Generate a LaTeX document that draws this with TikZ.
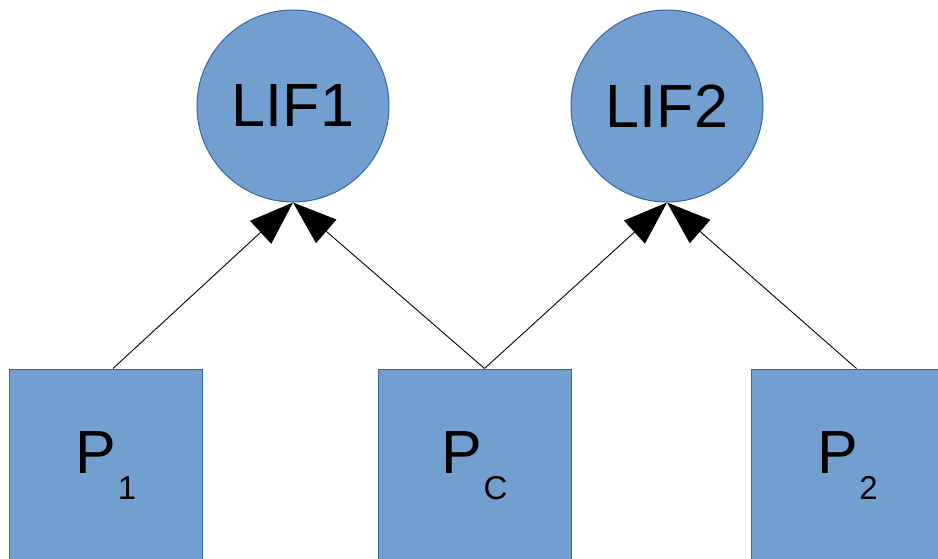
\documentclass[tikz,border=0pt]{standalone}
\usepackage{fontspec}
\setmainfont{Liberation Sans}
\usetikzlibrary{arrows.meta}
\definecolor{nodefill}{HTML}{729FCF}
\definecolor{nodeline}{HTML}{3465A4}
\newcommand{\bigtxt}{\fontsize{61}{61}\selectfont}
\newcommand{\subtxt}[1]{\kern1.5pt\raisebox{-26pt}{\fontsize{33}{33}\selectfont #1}}
\tikzset{
  neuron/.style={circle, fill=nodefill, draw=nodeline, line width=1pt,
    minimum size=192pt, inner sep=0pt, font=\bigtxt},
  source/.style={rectangle, fill=nodefill, draw=nodeline, line width=1pt,
    minimum size=193pt, inner sep=0pt, font=\bigtxt},
  link/.style={draw=black, line width=0.9pt,
    -{Triangle[length=44pt, width=31pt]}, shorten >=0pt}
}
\begin{document}
\begin{tikzpicture}[x=1pt, y=-1pt]
  \useasboundingbox (0,0) rectangle (938,559);
  \clip (0,0) rectangle (938,559);
  % integrate-and-fire neurons
  \node[neuron] (lif1) at (293,106) {LIF1};
  \node[neuron] (lif2) at (667,106) {LIF2};
  % input populations
  \node[source] (p1) at (106,465.5) {P\subtxt{1}};
  \node[source] (pc) at (474.5,465.5) {P\subtxt{C}};
  \node[source] (p2) at (847.5,465.5) {P\subtxt{2}};
  % projections
  \draw[link] ([xshift=7pt]p1.north) -- (lif1.south);
  \draw[link] ([xshift=10pt]pc.north) -- (lif1.south);
  \draw[link] ([xshift=10pt]pc.north) -- (lif2.south);
  \draw[link] ([xshift=9pt]p2.north) -- (lif2.south);
\end{tikzpicture}
\end{document}
